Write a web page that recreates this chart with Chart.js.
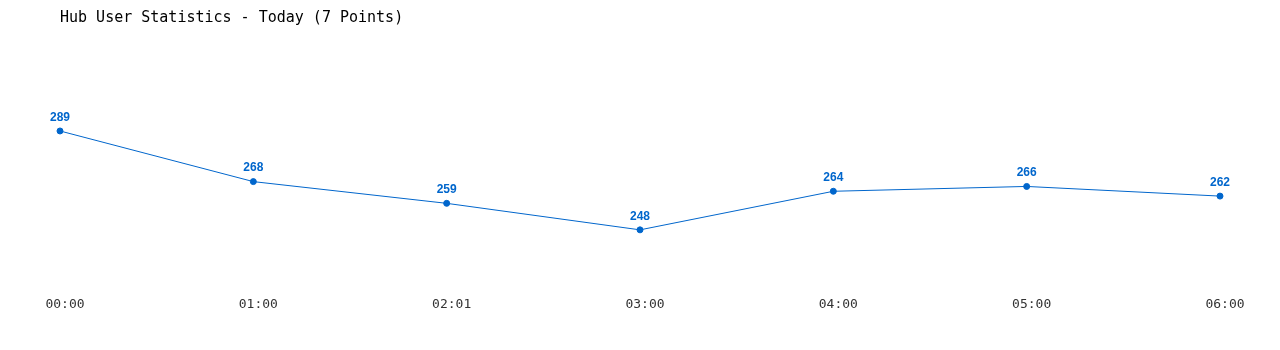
<!DOCTYPE html>
<html>
<head>
<meta charset="utf-8">
<script src="https://cdn.jsdelivr.net/npm/chart.js@4"></script>
<style>
  html, body { margin: 0; padding: 0; background: #fff; }
  #wrap { width: 1280px; height: 350px; position: relative; }
</style>
</head>
<body>
<div id="wrap"><canvas id="c" width="1280" height="350"></canvas></div>
<script>
const categories = ["00:00", "01:00", "02:01", "03:00", "04:00", "05:00", "06:00"];
const userCounts = [289, 268, 259, 248, 264, 266, 262];
const titleText = "Hub User Statistics - Today (7 Points)";
const yMin = 225.8;
const yMax = 326.1;

const lineColor = "#0066cc";

const valueLabels = {
  id: "valueLabels",
  afterDatasetsDraw(chart) {
    const ctx = chart.ctx;
    const meta = chart.getDatasetMeta(0);
    ctx.save();
    ctx.font = "bold 12px 'Liberation Sans', Arial, sans-serif";
    ctx.fillStyle = lineColor;
    ctx.textAlign = "center";
    ctx.textBaseline = "middle";
    meta.data.forEach((pt, i) => {
      ctx.fillText(String(chart.data.datasets[0].data[i]), pt.x, pt.y - 13.5);
    });
    ctx.restore();
  }
};

new Chart(document.getElementById("c"), {
  type: "line",
  data: {
    labels: categories,
    datasets: [{
      data: userCounts,
      borderColor: lineColor,
      backgroundColor: lineColor,
      borderWidth: 1,
      pointRadius: 3,
      pointBackgroundColor: lineColor,
      pointBorderColor: lineColor,
      pointBorderWidth: 1,
      tension: 0,
      fill: false
    }]
  },
  options: {
    responsive: false,
    animation: false,
    layout: { padding: { left: 60, right: 60, top: 0, bottom: 33 } },
    plugins: {
      legend: { display: false },
      tooltip: { enabled: false },
      title: {
        display: true,
        text: titleText,
        align: "start",
        color: "#000",
        font: { family: "'DejaVu Sans Mono', monospace", size: 15, weight: "normal" },
        padding: { top: 9.5, bottom: 14 }
      }
    },
    scales: {
      x: {
        type: "category",
        offset: false,
        grid: { display: false },
        border: { display: false },
        ticks: {
          color: "#333",
          font: { family: "'DejaVu Sans Mono', monospace", size: 13 },
          padding: 5,
          labelOffset: 5,
          maxRotation: 0,
          autoSkip: false
        }
      },
      y: {
        display: false,
        min: yMin,
        max: yMax
      }
    }
  },
  plugins: [valueLabels]
});
</script>
</body>
</html>
